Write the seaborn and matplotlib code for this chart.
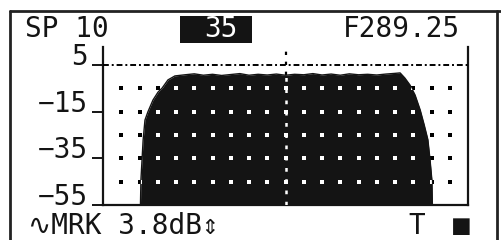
import numpy as np
import pandas as pd
import seaborn as sns
import matplotlib.pyplot as plt
from matplotlib.patches import Rectangle
from matplotlib.lines import Line2D

# spectrum trace (MHz, dB)
freq = [284.25, 285.27, 285.29, 285.35, 285.40, 285.48, 285.62, 285.76, 285.87,
        286.03, 286.22, 286.50, 286.75, 287.00, 287.25, 287.50, 287.75, 288.00,
        288.25, 288.50, 288.75, 289.00, 289.25, 289.50, 289.75, 290.00, 290.25,
        290.50, 290.75, 291.00, 291.25, 291.50, 291.75, 292.00, 292.25, 292.39,
        292.52, 292.66, 292.80, 292.94, 293.05, 293.15, 293.21, 293.26, 293.28,
        294.25]
level = [-60, -60, -44.0, -27.0, -18.6, -15.1, -10.0, -6.6, -4.9,
         -1.4, 0.3, 0.8, 1.2, 0.6, 1.0, 0.5, 0.9, 1.3,
         0.6, 1.0, 0.7, 1.1, 0.6, 1.0, 0.8, 1.3, 0.7,
         1.1, 0.6, 1.2, 0.8, 1.0, 0.7, 1.1, 1.4, 1.6,
         -0.6, -3.6, -7.9, -14.3, -20.7, -27.0, -35.7, -44.3, -60,
         -60]

span = (284.25, 294.25)
center = 289.25
ref_level = 5
db_bottom, db_top = -55, 12.7
y_ticks = [5, -15, -35, -55]
y_labels = ["5", "\u221215", "\u221235", "\u221255"]
grid_freq = [284.75, 285.25, 285.75, 286.25, 286.75, 287.25, 287.75, 288.25, 288.75, 289.25,
             289.75, 290.25, 290.75, 291.25, 291.75, 292.25, 292.75, 293.25, 293.75]
grid_db = [-5, -15, -25, -35, -45]

span_txt = "SP 10"
att_txt = "35"
freq_txt = "F289.25"
mrk_txt = "\u223fMRK 3.8dB\u21d5"
trig_txt = "T"
stop_txt = "\u25a0"

sns.set_style("white")
plt.rcParams["font.family"] = ["DejaVu Sans Mono", "DejaVu Sans"]
FS = 20
INK = "#141414"

W, H = 501, 240
fig = plt.figure(figsize=(W / 100, H / 100), dpi=100)


def fx(px):
    return px / W


def fy(py):
    return 1 - py / H


ax = fig.add_axes([fx(103), fy(205), fx(468) - fx(103), fy(47) - fy(205)])
ax.set_xlim(*span)
ax.set_ylim(db_bottom, db_top)

# grid dots, black underneath
gx, gy = np.meshgrid(grid_freq, grid_db)
dots = pd.DataFrame({"f": gx.ravel(), "db": gy.ravel()})
sns.scatterplot(data=dots, x="f", y="db", ax=ax, marker="s", s=5, color="black",
                linewidth=0, zorder=1, legend=False)
ax.axvline(center, color="black", lw=1.6, ls=(0, (1.5, 3)), zorder=1)

# spectrum
fill = ax.fill_between(freq, level, -60, color=INK, lw=0, zorder=2)
sns.lineplot(x=freq, y=level, ax=ax, color=INK, lw=1, zorder=2, sort=False)

# white dots inside the trace
clip = (fill.get_paths()[0], ax.transData)
sc = ax.scatter(dots["f"], dots["db"], marker="s", s=8, color="white", lw=0, zorder=3)
sc.set_clip_path(*clip)
vl = ax.axvline(center, color="white", lw=1.8, ls=(0, (1.5, 3)), zorder=3)
vl.set_clip_path(*clip)

# reference level line
ax.axhline(ref_level, color="black", lw=1.4, ls=(0, (3, 1.5, 1, 1.5)), zorder=4)

ax.spines["top"].set_visible(False)
for side in ["left", "right", "bottom"]:
    ax.spines[side].set_linewidth(1.6)
    ax.spines[side].set_color(INK)
ax.set_xticks([])
ax.set_yticks(y_ticks)
ax.set_yticklabels(y_labels)
ax.tick_params(axis="y", left=True, length=8, width=1.4, pad=3, labelsize=FS,
               colors=INK)
for lbl in ax.get_yticklabels():
    lbl.set_verticalalignment("baseline")
ax.set_xlabel("")
ax.set_ylabel("")

# screen frame
fig.add_artist(Line2D([fx(10), fx(10)], [fy(11), 0], color="#222222", lw=2))
fig.add_artist(Line2D([fx(10), 1], [fy(11), fy(11)], color="#222222", lw=2))
fig.add_artist(Line2D([fx(497), fx(497)], [fy(11), 0], color="#222222", lw=2))

# header
fig.text(fx(25), fy(37), span_txt, fontsize=FS, color=INK, va="baseline")
fig.add_artist(Rectangle((fx(180), fy(43)), fx(252) - fx(180), fy(16) - fy(43),
                         transform=fig.transFigure, color=INK, lw=0))
fig.text(fx(221), fy(37), att_txt, fontsize=FS, color="white", ha="center", va="baseline")
fig.text(fx(460), fy(37), freq_txt, fontsize=FS, color=INK, ha="right", va="baseline")

# footer
fig.text(fx(28), fy(234), mrk_txt, fontsize=FS, color=INK, va="baseline")
fig.text(fx(417), fy(234), trig_txt, fontsize=FS, color=INK, ha="center", va="baseline")
fig.text(fx(461), fy(234), stop_txt, fontsize=FS, color=INK, ha="center", va="baseline")

fig.savefig("out.png", dpi=100)
